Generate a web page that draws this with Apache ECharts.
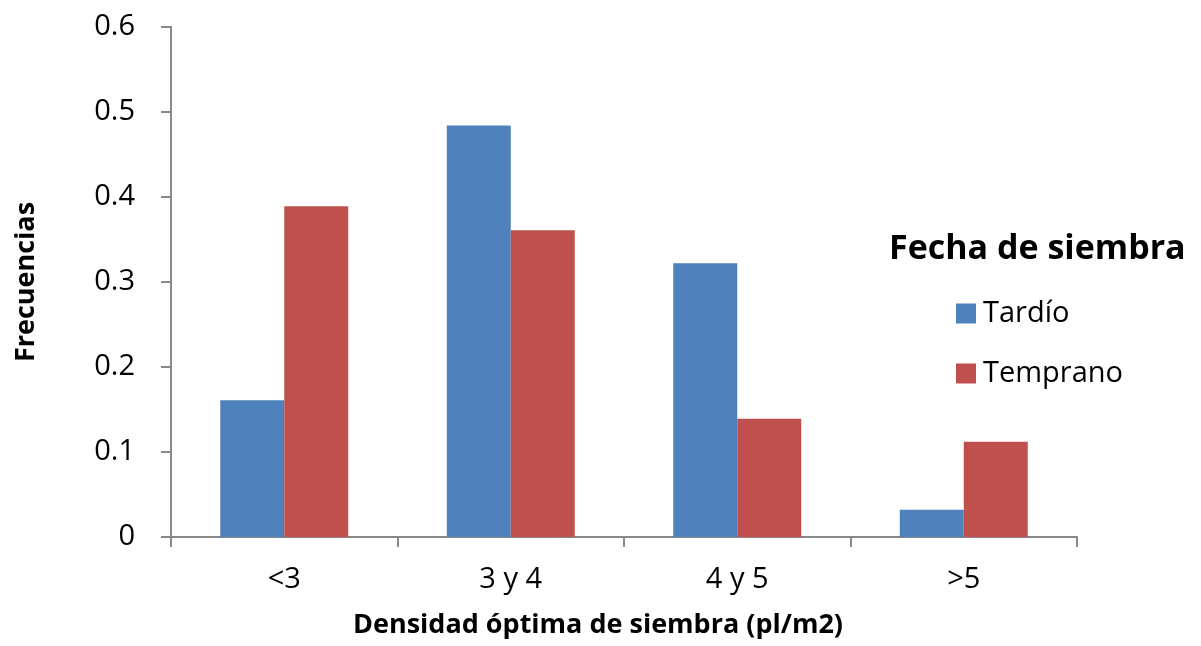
<!DOCTYPE html>
<html><head><meta charset="utf-8">
<script src="https://cdn.jsdelivr.net/npm/echarts@6/dist/echarts.min.js"></script>
<style>html,body{margin:0;padding:0;background:#fff}#c{width:1201px;height:646px}</style>
</head><body><div id="c"></div>
<script>
const categories = ['<3', '3 y 4', '4 y 5', '>5'];
const tardio = [0.161, 0.484, 0.322, 0.032];
const temprano = [0.389, 0.361, 0.139, 0.112];
const seriesNames = ['Tardío', 'Temprano'];
const legendTitle = 'Fecha de siembra';
const yTicks = [0, 0.1, 0.2, 0.3, 0.4, 0.5, 0.6];
const FONT = '"Open Sans", sans-serif';
const axisColor = '#898989';
const chart = echarts.init(document.getElementById('c'));
chart.setOption({
  animation: false,
  textStyle: {fontFamily: FONT},
  grid: {left: 171, right: 124, top: 27, bottom: 109, containLabel: false, outerBoundsMode: 'none'},
  title: {text: legendTitle, left: 884, top: 227, textStyle: {fontFamily: FONT, fontWeight: 'bold', fontSize: 34, color: '#000'}},
  legend: {orient: 'vertical', left: 951, top: 294, itemWidth: 20, itemHeight: 20, itemGap: 31,
    icon: 'rect', textStyle: {fontFamily: FONT, fontSize: 29, color: '#000', padding: [0,0,0,2]}, data: seriesNames},
  xAxis: {type: 'category', data: categories,
    name: 'Densidad óptima de siembra (pl/m2)', nameLocation: 'middle', nameGap: 75,
    nameTextStyle: {fontFamily: FONT, fontWeight: 'bold', fontSize: 27, color: '#000', padding: [0, 52, 0, 0]},
    axisLine: {lineStyle: {color: axisColor, width: 2}},
    axisTick: {show: true, alignWithLabel: false, length: 10, lineStyle: {color: axisColor, width: 2}},
    axisLabel: {fontFamily: FONT, fontSize: 29, color: '#000', margin: 28}},
  yAxis: {type: 'value', min: 0, max: 0.6, interval: 0.1,
    name: 'Frecuencias', nameLocation: 'middle', nameGap: 131, nameRotate: 90,
    nameTextStyle: {fontFamily: FONT, fontWeight: 'bold', fontSize: 27, color: '#000'},
    splitLine: {show: false},
    axisLine: {show: true, lineStyle: {color: axisColor, width: 2}},
    axisTick: {show: true, length: 10, lineStyle: {color: axisColor, width: 2}},
    axisLabel: {fontFamily: FONT, fontSize: 29, color: '#000', margin: 36,
      formatter: v => { const t = yTicks.find(x => Math.abs(x - v) < 1e-9); return t === 0 ? '0' : String(t); }}},
  series: [
    {name: seriesNames[0], type: 'bar', data: tardio, barGap: '0%', barCategoryGap: '43.5%', itemStyle: {color: '#4f81bd'}},
    {name: seriesNames[1], type: 'bar', data: temprano, barGap: '0%', barCategoryGap: '43.5%', itemStyle: {color: '#c0504d'}}
  ]
});
</script></body></html>
